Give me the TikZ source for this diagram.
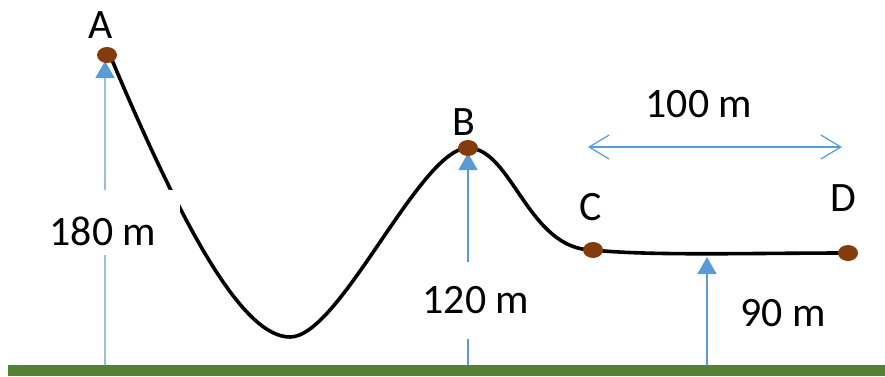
\documentclass[tikz,border=0pt]{standalone}
\usepackage{fontspec}
\setmainfont{Carlito}
\usetikzlibrary{arrows.meta,shapes.geometric}
\definecolor{arrowblue}{HTML}{5B9BD5}
\definecolor{dotbrown}{HTML}{843C0C}
\definecolor{grassgreen}{HTML}{548235}
\tikzset{
  track/.style={line width=3.6bp, black},
  uparrow/.style={arrowblue, line width=1.4bp, -{Triangle[length=17bp,width=19bp]}},
  spanarrow/.style={arrowblue, line width=1.2bp, {Straight Barb[length=20bp,width=24bp,line width=1.2bp]}-{Straight Barb[length=20bp,width=24bp,line width=1.2bp]}},
  dot/.style={ellipse, fill=dotbrown, minimum width=20bp, minimum height=16bp, inner sep=0pt},
  hlabel/.style={inner sep=0pt}
}
\begin{document}
\begin{tikzpicture}[x=1bp, y=-1bp, font=\fontsize{42}{48}\selectfont, line join=round, line cap=round]
	\useasboundingbox (0,0) rectangle (885,376);
	% ground
	\fill[grassgreen] (8,365) rectangle (885,376);
	
	% points on the track
	\coordinate (A) at (107,55);
	\coordinate (B) at (468,148);
	\coordinate (C) at (593,250);
	\coordinate (D) at (848,253);
	\coordinate (Aout) at (112,60);
	\coordinate (low) at (290,337);
	
	% foot points of the height arrows
	\coordinate (gA) at (105,365);
	\coordinate (gB) at (468,365);
	\coordinate (gD) at (707,365);
	\coordinate (tD) at (707,257);
	
	% the track
	\draw[track] (Aout) .. controls (188,240) and (245,337) .. (low)
		.. controls (340,337) and (420,148) .. (B)
		.. controls (512,148) and (528,250) .. (C)
		.. controls (650,256) and (750,253) .. (D);
	
	% height arrows
	\draw[uparrow] (gA) -- ([xshift=-2bp,yshift=-6bp]A);
	\draw[uparrow] (gB) -- ([yshift=-5bp]B);
	\draw[uparrow] (gD) -- (tD);
	
	% heights (white boxes hide what is behind)
	\node[hlabel, fill=white, minimum width=154bp, text height=55bp, text depth=10bp] (h180) at (103,222.5) {180 m};
	\node[hlabel, fill=white, minimum width=112bp, text height=51bp, text depth=26bp] (h120) at (476,300.5) {120 m};
	\node[hlabel] (h90) at (783,313) {90 m};
	
	% distance C--D
	\coordinate (sL) at (588,147);
	\coordinate (sR) at (842,147);
	\draw[spanarrow] (sL) -- (sR);
	\node[hlabel] (d100) at (699,104) {100 m};
	
	% dots and names
	\node[dot] (dA) at (A) {};
	\node[dot] (dB) at (B) {};
	\node[dot] (dC) at (C) {};
	\node[dot] (dD) at (D) {};
	\node[hlabel] (nA) at (101,25) {A};
	\node[hlabel] (nB) at (464,122) {B};
	\node[hlabel] (nC) at (591,207) {C};
	\node[hlabel] (nD) at (843,198) {D};
\end{tikzpicture}
\end{document}
